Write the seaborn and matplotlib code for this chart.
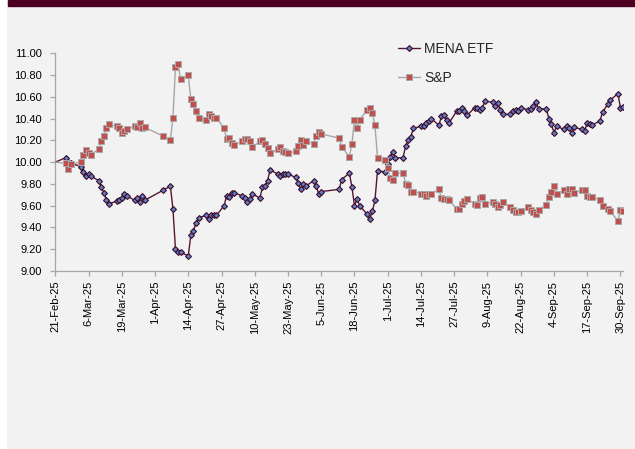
# %%
import pandas as pd
import numpy as np
import matplotlib
matplotlib.use("Agg")
from matplotlib import pyplot as plt
from matplotlib.patches import Rectangle
from matplotlib.ticker import FormatStrFormatter
import seaborn as sns

# %% Data
dates = [
    "2025-02-21", "2025-02-25", "2025-02-26", "2025-02-27",
    "2025-03-03", "2025-03-04", "2025-03-05", "2025-03-06", "2025-03-07",
    "2025-03-10", "2025-03-11", "2025-03-12", "2025-03-13", "2025-03-14",
    "2025-03-17", "2025-03-18", "2025-03-19", "2025-03-20", "2025-03-21",
    "2025-03-24", "2025-03-25", "2025-03-26", "2025-03-27", "2025-03-28",
    "2025-04-04",
    "2025-04-07", "2025-04-08", "2025-04-09", "2025-04-10", "2025-04-11",
    "2025-04-14", "2025-04-15", "2025-04-16", "2025-04-17", "2025-04-18",
    "2025-04-21", "2025-04-22", "2025-04-23", "2025-04-24", "2025-04-25",
    "2025-04-28", "2025-04-29", "2025-04-30", "2025-05-01", "2025-05-02",
    "2025-05-05", "2025-05-06", "2025-05-07", "2025-05-08", "2025-05-09",
    "2025-05-12", "2025-05-13", "2025-05-14", "2025-05-15", "2025-05-16",
    "2025-05-19", "2025-05-20", "2025-05-21", "2025-05-22", "2025-05-23",
    "2025-05-26", "2025-05-27", "2025-05-28", "2025-05-29", "2025-05-30",
    "2025-06-02", "2025-06-03", "2025-06-04", "2025-06-05",
    "2025-06-12", "2025-06-13",
    "2025-06-16", "2025-06-17", "2025-06-18", "2025-06-19", "2025-06-20",
    "2025-06-23", "2025-06-24", "2025-06-25", "2025-06-26", "2025-06-27",
    "2025-06-30", "2025-07-01", "2025-07-02", "2025-07-03", "2025-07-04",
    "2025-07-07", "2025-07-08", "2025-07-09", "2025-07-10", "2025-07-11",
    "2025-07-14", "2025-07-15", "2025-07-16", "2025-07-17", "2025-07-18",
    "2025-07-21", "2025-07-22", "2025-07-23", "2025-07-24", "2025-07-25",
    "2025-07-28", "2025-07-29", "2025-07-30", "2025-07-31", "2025-08-01",
    "2025-08-04", "2025-08-05", "2025-08-06", "2025-08-07", "2025-08-08",
    "2025-08-11", "2025-08-12", "2025-08-13", "2025-08-14", "2025-08-15",
    "2025-08-18", "2025-08-19", "2025-08-20", "2025-08-21", "2025-08-22",
    "2025-08-25", "2025-08-26", "2025-08-27", "2025-08-28", "2025-08-29",
    "2025-09-01", "2025-09-02", "2025-09-03", "2025-09-04", "2025-09-05",
    "2025-09-08", "2025-09-09", "2025-09-10", "2025-09-11", "2025-09-12",
    "2025-09-15", "2025-09-16", "2025-09-17", "2025-09-18", "2025-09-19",
    "2025-09-22", "2025-09-23", "2025-09-25", "2025-09-26",
    "2025-09-29", "2025-09-30", "2025-10-01",
]

mena_etf = [
    10.00, 10.04, 10.00, 9.99,
    9.96, 9.91, 9.87, 9.89, 9.87,
    9.83, 9.77, 9.72, 9.65, 9.62,
    9.64, 9.65, 9.67, 9.71, 9.69,
    9.65, 9.67, 9.63, 9.69, 9.65,
    9.74,
    9.78, 9.57, 9.20, 9.17, 9.17,
    9.14, 9.33, 9.37, 9.44, 9.49,
    9.51, 9.48, 9.51, 9.51, 9.51,
    9.60, 9.69, 9.68, 9.72, 9.72,
    9.69, 9.67, 9.63, 9.66, 9.71,
    9.67, 9.77, 9.78, 9.83, 9.93,
    9.89, 9.87, 9.89, 9.89, 9.89,
    9.86, 9.81, 9.75, 9.80, 9.78,
    9.83, 9.78, 9.71, 9.73,
    9.75, 9.84,
    9.90, 9.77, 9.60, 9.66, 9.60,
    9.52, 9.48, 9.55, 9.65, 9.92,
    9.91, 9.98, 10.05, 10.09, 10.04,
    10.04, 10.15, 10.20, 10.23, 10.31,
    10.33, 10.33, 10.36, 10.38, 10.40,
    10.34, 10.42, 10.43, 10.39, 10.36,
    10.47, 10.47, 10.50, 10.47, 10.43,
    10.50, 10.50, 10.48, 10.50, 10.56,
    10.55, 10.52, 10.54, 10.48, 10.44,
    10.44, 10.47, 10.48, 10.47, 10.50,
    10.48, 10.49, 10.52, 10.55, 10.49,
    10.49, 10.40, 10.35, 10.27, 10.33,
    10.30, 10.33, 10.31, 10.27, 10.32,
    10.30, 10.29, 10.36, 10.35, 10.34,
    10.38, 10.46, 10.53, 10.57,
    10.63, 10.50, 10.51,
]

snp = [
    10.00, 9.99, 9.94, 9.98,
    10.00, 10.07, 10.11, 10.08, 10.07,
    10.12, 10.19, 10.24, 10.31, 10.35,
    10.33, 10.31, 10.27, 10.29, 10.30,
    10.33, 10.32, 10.36, 10.31, 10.32,
    10.24,
    10.20, 10.41, 10.87, 10.90, 10.76,
    10.80, 10.58, 10.53, 10.47, 10.41,
    10.39, 10.44, 10.42, 10.41, 10.41,
    10.31, 10.21, 10.22, 10.18, 10.16,
    10.19, 10.21, 10.21, 10.19, 10.14,
    10.19, 10.20, 10.17, 10.13, 10.08,
    10.12, 10.14, 10.10, 10.09, 10.08,
    10.10, 10.15, 10.20, 10.16, 10.19,
    10.17, 10.24, 10.28, 10.26,
    10.22, 10.14,
    10.05, 10.17, 10.39, 10.31, 10.39,
    10.48, 10.50, 10.45, 10.34, 10.04,
    10.02, 9.95, 9.85, 9.84, 9.90,
    9.90, 9.80, 9.79, 9.73, 9.73,
    9.71, 9.71, 9.69, 9.71, 9.71,
    9.75, 9.67, 9.66, 9.66, 9.65,
    9.57, 9.57, 9.62, 9.64, 9.66,
    9.62, 9.61, 9.67, 9.68, 9.62,
    9.63, 9.62, 9.59, 9.61, 9.63,
    9.59, 9.56, 9.54, 9.54, 9.55,
    9.59, 9.56, 9.54, 9.52, 9.56,
    9.61, 9.68, 9.73, 9.78, 9.71,
    9.74, 9.71, 9.75, 9.75, 9.72,
    9.74, 9.74, 9.69, 9.68, 9.68,
    9.65, 9.60, 9.57, 9.55,
    9.46, 9.56, 9.55,
]

df = pd.DataFrame({"Date": pd.to_datetime(dates), "MENA ETF": mena_etf, "S&P": snp})

# %% Figure
sns.set_style("white")
plt.rcParams["font.family"] = ["Liberation Sans", "DejaVu Sans"]

W, H = 635, 449
fig = plt.figure(figsize=(W / 100, H / 100), dpi=100)
fig.patches.append(Rectangle((7 / W, 0), 1, 1, transform=fig.transFigure,
                             color="#f2f2f2", zorder=-10))
fig.patches.append(Rectangle((8 / W, 1 - 6 / H), 1, 6 / H, transform=fig.transFigure,
                             color="#4a001e", zorder=-9))

ax = fig.add_axes([55.3 / W, 1 - 271 / H, (623 - 55.3) / W, (271 - 53.3) / H])
ax.patch.set_alpha(0)

sns.lineplot(data=df, x="Date", y="MENA ETF", ax=ax, color="#561535", lw=1,
             marker="D", markersize=3.0, markerfacecolor="#5d7fc4",
             markeredgecolor="#3f0a26", markeredgewidth=0.8,
             label="MENA ETF", zorder=3)
sns.lineplot(data=df, x="Date", y="S&P", ax=ax, color="#a6a6a6", lw=1,
             marker="s", markersize=4.2, markerfacecolor="#c0504d",
             markeredgecolor="#a9a9a9", markeredgewidth=0.7,
             label="S&P", zorder=4)

handles, labels = ax.get_legend_handles_labels()
ax.get_legend().remove()
fig.legend(handles, labels, loc="upper left", bbox_to_anchor=(398 / W, 1 - 42 / H),
           frameon=False, fontsize=10, labelspacing=1.1, handlelength=1.6,
           handletextpad=0.3, borderaxespad=0, borderpad=0)

# first point drawn without marker, as in the source
for line in ax.get_lines():
    line.set_markevery(list(range(1, len(df))))

# axes
ticks = pd.date_range("2025-02-21", "2025-09-30", freq="13D")
ax.set_xticks(ticks)
ax.set_xticklabels([f"{d.day}-{d:%b-%y}" for d in ticks], rotation=90)
ax.set_xlim(pd.Timestamp("2025-02-21"), pd.Timestamp("2025-10-01"))
ax.set_ylim(9, 11)
ax.set_yticks(np.arange(9, 11.01, 0.2))
ax.yaxis.set_major_formatter(FormatStrFormatter("%.2f"))
ax.set_xlabel("")
ax.set_ylabel("")

for s in ["top", "right"]:
    ax.spines[s].set_visible(False)
for s in ["left", "bottom"]:
    ax.spines[s].set_color("#a6a6a6")
    ax.spines[s].set_linewidth(0.9)
ax.tick_params(axis="both", bottom=True, left=True, direction="out", length=3.5,
               width=0.9, color="#a6a6a6", labelsize=8, labelcolor="#000000")
ax.tick_params(axis="y", pad=6)
ax.tick_params(axis="x", pad=3.5)

plt.savefig("out.png", dpi=100)
plt.close()
